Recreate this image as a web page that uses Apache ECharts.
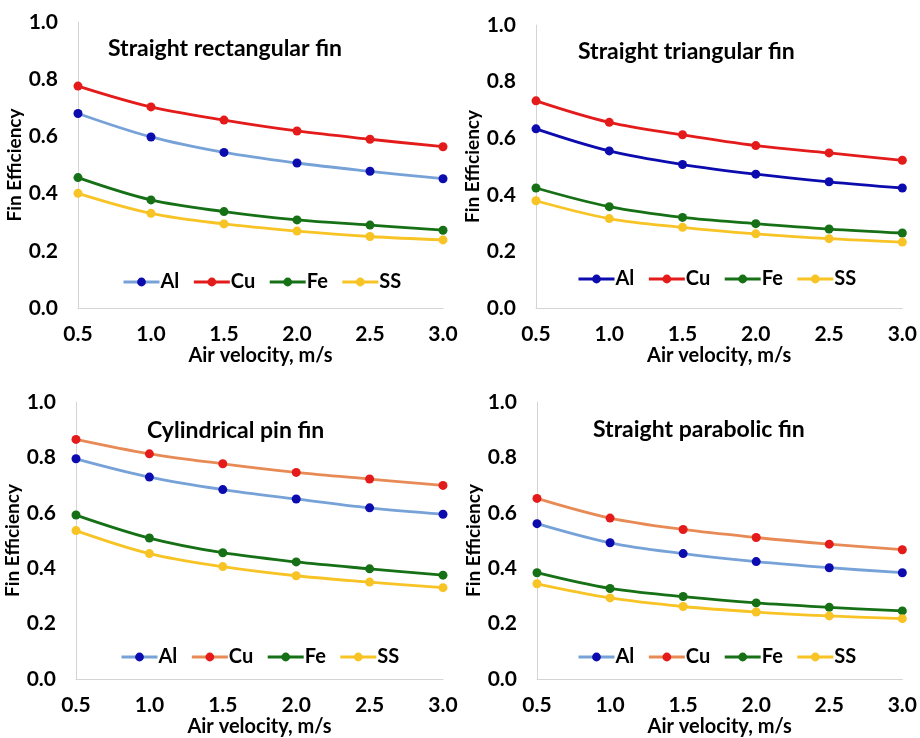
<!DOCTYPE html>
<html>
<head>
    <meta charset="utf-8">
    <title>Fin efficiency</title>
    <script src="https://cdn.jsdelivr.net/npm/echarts@6/dist/echarts.min.js"></script>
    <style>
        html,body{
            height: 100%;
            margin: 0;
            padding: 0;
            background: #fff;
        }
    </style>
</head>
<body>
    <div id="main" style="width: 920px;height:738px;"></div>
    <script type="text/javascript">
    // air velocity, m/s
    var velocity = [0.5, 1.0, 1.5, 2.0, 2.5, 3.0];
    var materials = ['Al', 'Cu', 'Fe', 'SS'];
    var panelTitles = ['Straight rectangular fin', 'Straight triangular fin', 'Cylindrical pin fin', 'Straight parabolic fin'];

    // straight rectangular fin
    var rectAl = [0.680, 0.598, 0.544, 0.507, 0.478, 0.452];
    var rectCu = [0.776, 0.703, 0.657, 0.619, 0.590, 0.564];
    var rectFe = [0.456, 0.378, 0.337, 0.308, 0.290, 0.272];
    var rectSS = [0.401, 0.331, 0.294, 0.269, 0.250, 0.238];

    // straight triangular fin
    var triAl = [0.633, 0.555, 0.507, 0.473, 0.446, 0.424];
    var triCu = [0.732, 0.656, 0.612, 0.574, 0.548, 0.522];
    var triFe = [0.424, 0.358, 0.320, 0.298, 0.279, 0.265];
    var triSS = [0.379, 0.316, 0.285, 0.262, 0.245, 0.233];

    // cylindrical pin fin
    var pinAl = [0.795, 0.729, 0.684, 0.650, 0.618, 0.595];
    var pinCu = [0.865, 0.813, 0.777, 0.746, 0.722, 0.699];
    var pinFe = [0.592, 0.509, 0.456, 0.423, 0.398, 0.375];
    var pinSS = [0.536, 0.453, 0.406, 0.373, 0.350, 0.330];

    // straight parabolic fin
    var paraAl = [0.561, 0.492, 0.453, 0.424, 0.402, 0.384];
    var paraCu = [0.652, 0.581, 0.540, 0.511, 0.487, 0.467];
    var paraFe = [0.384, 0.327, 0.298, 0.275, 0.259, 0.246];
    var paraSS = [0.344, 0.293, 0.262, 0.242, 0.228, 0.218];

    var panelData = [
        [rectAl, rectCu, rectFe, rectSS],
        [triAl, triCu, triFe, triSS],
        [pinAl, pinCu, pinFe, pinSS],
        [paraAl, paraCu, paraFe, paraSS]
    ];

    // line colour / marker colour per panel & material
    var BLUE = '#0c0cae', LIGHTBLUE = '#76a2d8', RED = '#e41b1b', ORANGE = '#e88a55', GREEN = '#167016', YELLOW = '#f7c325';
    var lineColors = [
        [LIGHTBLUE, RED, GREEN, YELLOW],
        [BLUE, RED, GREEN, YELLOW],
        [LIGHTBLUE, ORANGE, GREEN, YELLOW],
        [LIGHTBLUE, ORANGE, GREEN, YELLOW]
    ];
    var markColors = [BLUE, RED, GREEN, YELLOW];

    var grids = [
        {left: 78, top: 22, width: 365, height: 286},
        {left: 536, top: 25, width: 367, height: 283},
        {left: 76, top: 402, width: 367, height: 285},
        {left: 537, top: 402, width: 366, height: 284}
    ];
    var titlePos = [[108, 37], [578, 40], [147, 419], [593, 418]];
    var legendPos = [[122, 272], [577, 269], [120, 647], [577, 647]];

    var FONT = 'Lato';
    var fmt1 = function(v){ return v.toFixed(1); };

    var option = {
        backgroundColor: '#fff',
        textStyle: {fontFamily: FONT},
        grid: [], xAxis: [], yAxis: [], title: [], legend: [], series: []
    };

    for (var p = 0; p < 4; p++) {
        var g = grids[p];
        option.grid.push({left: g.left, top: g.top, width: g.width, height: g.height, containLabel: false});
        option.xAxis.push({
            type: 'value', gridIndex: p,
            min: 0.5, max: 3.0, interval: 0.5,
            name: 'Air velocity, m/s', nameLocation: 'middle', nameGap: 33,
            nameTextStyle: {fontFamily: FONT, fontWeight: 'bold', fontSize: 20, color: '#000'},
            axisLine: {show: true, lineStyle: {color: '#d4d4d4', width: 1}},
            axisTick: {show: false},
            splitLine: {show: false},
            axisLabel: {formatter: fmt1, fontFamily: FONT, fontWeight: 'bold', fontSize: 21, color: '#000', margin: 16}
        });
        option.yAxis.push({
            type: 'value', gridIndex: p,
            min: 0, max: 1, interval: 0.2,
            name: 'Fin Efficiency', nameLocation: 'middle', nameGap: 50,
            nameTextStyle: {fontFamily: FONT, fontWeight: 'bold', fontSize: 19, color: '#000'},
            axisLine: {show: true, lineStyle: {color: '#d4d4d4', width: 1}},
            axisTick: {show: false},
            splitLine: {show: false},
            axisLabel: {formatter: fmt1, fontFamily: FONT, fontWeight: 'bold', fontSize: 21, color: '#000', margin: 20}
        });
        option.title.push({
            text: panelTitles[p], left: titlePos[p][0], top: titlePos[p][1], padding: 0,
            textStyle: {fontFamily: FONT, fontWeight: 'bold', fontSize: 23, color: '#000'}
        });
        var legData = [];
        for (var m = 0; m < 4; m++) {
            legData.push({
                name: materials[m],
                itemStyle: {color: markColors[m]},
                lineStyle: {color: lineColors[p][m], width: 3}
            });
        }
        option.legend.push({
            data: legData, left: legendPos[p][0], top: legendPos[p][1], padding: 0,
            itemWidth: 36, itemHeight: 11, itemGap: 13, selectedMode: false,
            textStyle: {fontFamily: FONT, fontWeight: 'bold', fontSize: 20, color: '#000', padding: [0, 0, 0, -4]}
        });
        for (var m = 0; m < 4; m++) {
            var vals = panelData[p][m];
            var pts = [];
            for (var i = 0; i < velocity.length; i++) {
                pts.push([velocity[i], vals[i]]);
            }
            option.series.push({
                name: materials[m], type: 'line',
                xAxisIndex: p, yAxisIndex: p,
                smooth: 0.35,
                symbol: 'circle', symbolSize: 9,
                lineStyle: {color: lineColors[p][m], width: 2.8},
                itemStyle: {color: markColors[m]},
                data: pts
            });
        }
    }

    var myChart = echarts.init(document.getElementById('main'));
    myChart.setOption(option);
    </script>
</body>
</html>
